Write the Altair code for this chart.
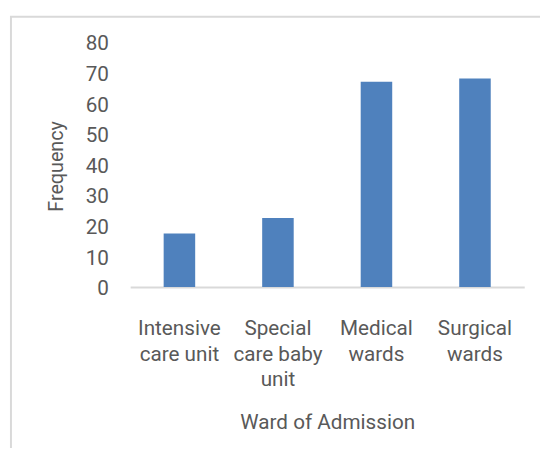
import altair as alt
import pandas as pd

categories = ["Intensive care unit", "Special care baby unit", "Medical wards", "Surgical wards"]
label_lines = [["Intensive", "care unit"], ["Special", "care baby", "unit"], ["Medical", "wards"], ["Surgical", "wards"]]
frequency = [17.5, 22.5, 67, 68]
y_ticks = [0, 10, 20, 30, 40, 50, 60, 70, 80]

df = pd.DataFrame({"ward": categories, "freq": frequency})

FONT = "Roboto"
TXT = "#595959"

expr_parts = []
for cat, lines in zip(categories, label_lines):
    arr = "[" + ",".join("'" + l + "'" for l in lines) + "]"
    expr_parts.append(f"datum.label == '{cat}' ? {arr} : ")
label_expr = "".join(expr_parts) + "datum.label"

bars = alt.Chart(df).mark_bar(color="#4F81BD").encode(
    x=alt.X(
        "ward:N",
        sort=categories,
        scale=alt.Scale(paddingInner=0.68, paddingOuter=0.34),
        axis=alt.Axis(
            title="Ward of Admission",
            labelAngle=0,
            labelExpr=label_expr,
            labelFont=FONT,
            labelFontSize=21,
            labelColor=TXT,
            labelLineHeight=26,
            labelBaseline="top",
            labelPadding=31,
            ticks=False,
            domainColor="#D9D9D9",
            domainWidth=2,
            titleFont=FONT,
            titleFontSize=21,
            titleFontWeight="normal",
            titleColor=TXT,
            titleBaseline="alphabetic",
            titleX=200,
            titleY=144,
            titleAnchor="middle",
        ),
    ),
    y=alt.Y(
        "freq:Q",
        scale=alt.Scale(domain=[0, 80], nice=False),
        axis=alt.Axis(
            title="Frequency",
            values=y_ticks,
            grid=False,
            domain=False,
            ticks=False,
            labelFont=FONT,
            labelFontSize=21,
            labelColor=TXT,
            labelPadding=22,
            labelOffset=2,
            titleFont=FONT,
            titleFontSize=20,
            titleFontWeight="normal",
            titleColor=TXT,
            titleBaseline="alphabetic",
            titleAngle=-90,
            titleX=-69,
            titleY=126,
            titleAlign="center",
        ),
    ),
)

frame = alt.Chart(pd.DataFrame({"a": [0]})).mark_rect(
    fillOpacity=0, stroke="#D9D9D9", strokeWidth=2
).encode(
    x=alt.value(-121), x2=alt.value(430),
    y=alt.value(-25.5), y2=alt.value(440),
)

chart = alt.layer(frame, bars).properties(
    width=400,
    height=249,
    background="white",
    autosize=alt.AutoSizeParams(type="none"),
    padding={"left": 124, "top": 31, "right": 16, "bottom": 160},
).configure_view(stroke=None, strokeWidth=0)

chart.save("out.html", embed_options={"renderer": "svg", "actions": False})
